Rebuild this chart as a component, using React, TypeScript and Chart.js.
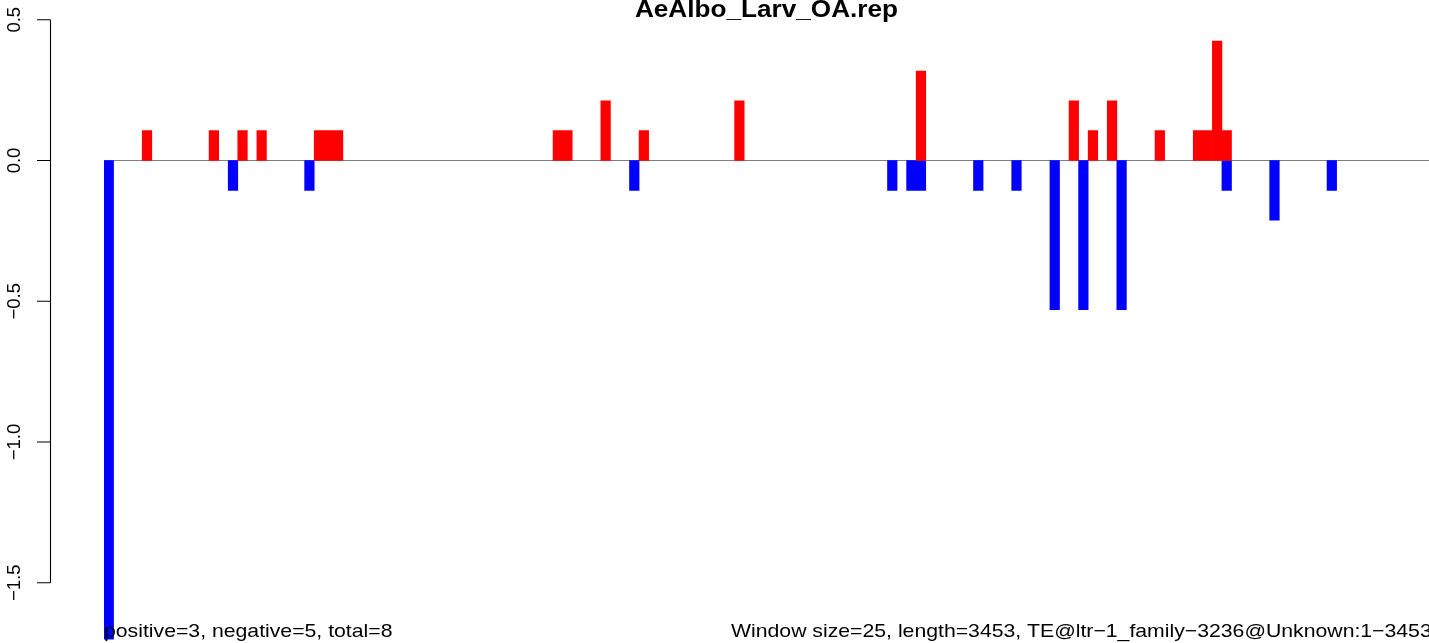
import React, { useEffect, useRef } from "react";
import { Chart, registerables } from "chart.js";

Chart.register(...registerables);

// ---- data ----
const WINDOW_COUNT = 138;
const posWindows = [4, 11, 14, 16, 22, 23, 24, 47, 48, 52, 56, 66, 85, 101, 103, 105, 110, 114, 115, 116, 117];
const posValues = [0.106, 0.106, 0.106, 0.106, 0.106, 0.106, 0.106, 0.106, 0.106, 0.212, 0.106, 0.212, 0.318, 0.212, 0.106, 0.212, 0.106, 0.106, 0.106, 0.424, 0.106];
const negWindows = [0, 13, 21, 55, 82, 84, 85, 91, 95, 99, 102, 106, 117, 122, 128];
const negValues = [-1.7, -0.106, -0.106, -0.106, -0.106, -0.106, -0.106, -0.106, -0.106, -0.53, -0.53, -0.53, -0.106, -0.212, -0.106];
const yTicks = [0.5, 0.0, -0.5, -1.0, -1.5];
const yTickLabels = ["0.5", "0.0", "\u22120.5", "\u22121.0", "\u22121.5"];
const titleText = "AeAlbo_Larv_OA.rep";
const leftNote = "positive=3, negative=5, total=8";
const rightNote = "Window size=25, length=3453, TE@ltr\u22121_family\u22123236@Unknown:1\u22123453";

const W = 1429;
const H = 643;
const FONT = "'Liberation Sans', Arial, Helvetica, sans-serif";
const XSTRETCH = 1.147;

function buildSeries(idx: number[], vals: number[]): (number | null)[] {
  const arr: (number | null)[] = new Array(WINDOW_COUNT).fill(null);
  idx.forEach((w, k) => {
    arr[w] = vals[k];
  });
  return arr;
}

const decorPlugin = {
  id: "rDecor",
  beforeDatasetsDraw(chart: any) {
    const ctx = chart.ctx;
    const y = chart.scales.y;
    const x = chart.scales.x;
    const y0 = y.getPixelForValue(0);
    ctx.save();
    ctx.strokeStyle = "#7f7f7f";
    ctx.lineWidth = 1.2;
    ctx.beginPath();
    ctx.moveTo(x.left, y0);
    ctx.lineTo(W, y0);
    ctx.stroke();
    ctx.restore();
  },
  afterDraw(chart: any) {
    const ctx = chart.ctx;
    const y = chart.scales.y;
    const area = chart.chartArea;
    ctx.save();
    // y axis
    const axisX = 50.5;
    ctx.strokeStyle = "#000";
    ctx.lineWidth = 1.1;
    ctx.beginPath();
    ctx.moveTo(axisX, y.getPixelForValue(yTicks[0]));
    ctx.lineTo(axisX, y.getPixelForValue(yTicks[yTicks.length - 1]));
    yTicks.forEach((t) => {
      const py = y.getPixelForValue(t);
      ctx.moveTo(37, py);
      ctx.lineTo(axisX, py);
    });
    ctx.stroke();
    // tick labels (rotated)
    ctx.fillStyle = "#000";
    ctx.font = `18.5px ${FONT}`;
    ctx.textAlign = "center";
    ctx.textBaseline = "alphabetic";
    yTicks.forEach((t, i) => {
      const py = y.getPixelForValue(t);
      ctx.save();
      ctx.translate(19.5, py);
      ctx.rotate(-Math.PI / 2);
      ctx.fillText(yTickLabels[i], 0, 0);
      ctx.restore();
    });
    // title
    ctx.save();
    ctx.font = `bold 24px ${FONT}`;
    ctx.textAlign = "center";
    ctx.translate(766.5, 16.8);
    ctx.scale(1.09, 1);
    ctx.fillText(titleText, 0, 0);
    ctx.restore();
    // bottom notes
    ctx.font = `18.5px ${FONT}`;
    ctx.textAlign = "left";
    ctx.save();
    ctx.translate(area.left, 636.5);
    ctx.scale(XSTRETCH, 1);
    ctx.fillText(leftNote, 0, 0);
    ctx.restore();
    ctx.save();
    ctx.translate(731, 636.5);
    ctx.scale(XSTRETCH, 1);
    ctx.fillText(rightNote, 0, 0);
    ctx.restore();
    ctx.restore();
  },
};

export default function App() {
  const ref = useRef<HTMLCanvasElement | null>(null);
  useEffect(() => {
    if (!ref.current) return;
    const labels = Array.from({ length: WINDOW_COUNT }, (_, i) => String(i + 1));
    const chart = new Chart(ref.current, {
      type: "bar",
      data: {
        labels,
        datasets: [
          {
            label: "positive",
            data: buildSeries(posWindows, posValues),
            backgroundColor: "#ff0000",
            borderWidth: 0,
            barPercentage: 1,
            categoryPercentage: 1,
            grouped: false,
          } as any,
          {
            label: "negative",
            data: buildSeries(negWindows, negValues),
            backgroundColor: "#0000ff",
            borderWidth: 0,
            barPercentage: 1,
            categoryPercentage: 1,
            grouped: false,
          } as any,
        ],
      },
      options: {
        responsive: false,
        animation: false,
        events: [],
        layout: { padding: { left: 104, right: W - 104 - 138 * 9.555, top: 0, bottom: 0 } },
        plugins: { legend: { display: false }, tooltip: { enabled: false }, title: { display: false } },
        scales: {
          x: { display: false, offset: true, grid: { display: false } },
          y: { display: false, min: -1.714, max: 0.5702, grid: { display: false } },
        },
      },
      plugins: [decorPlugin],
    });
    return () => chart.destroy();
  }, []);
  return (
    <div style={{ position: "absolute", left: 0, top: 0, width: W, height: H, background: "#fff" }}>
      <canvas ref={ref} width={W} height={H} style={{ display: "block" }} />
    </div>
  );
}
